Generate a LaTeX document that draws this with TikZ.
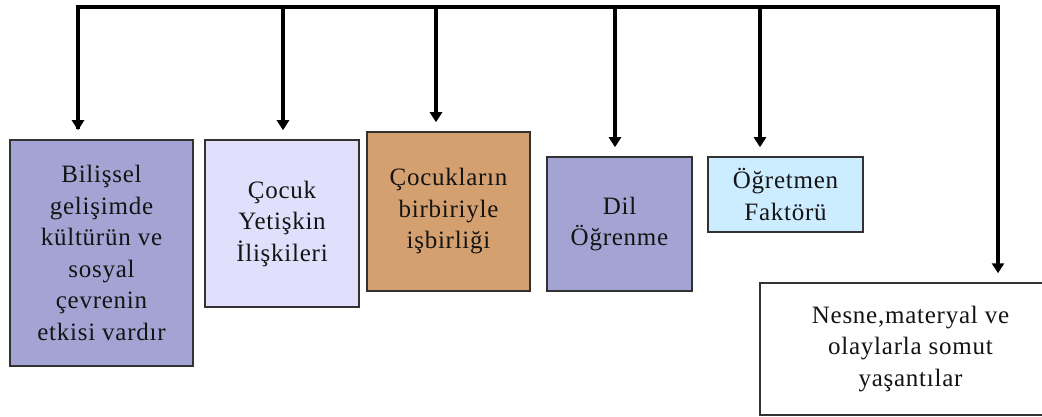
\documentclass[tikz,border=0pt]{standalone}
\usepackage{fontspec}
\setmainfont[LetterSpace=3]{Liberation Serif}
\usetikzlibrary{arrows.meta}

\definecolor{lavender}{RGB}{164,164,212}
\definecolor{palelilac}{RGB}{224,224,252}
\definecolor{tan}{RGB}{212,160,112}
\definecolor{skyblue}{RGB}{204,236,255}
\definecolor{edge}{RGB}{50,50,50}
\definecolor{ink}{RGB}{20,20,20}

\tikzset{
  card/.style={draw=edge, line width=1.5pt, align=center, inner sep=0pt,
    text=ink, font=\fontsize{25}{31.5}\selectfont},
  wire/.style={line width=3.2pt, black},
  feed/.style={wire, -{Triangle[length=10pt,width=12pt]}, shorten >=9pt}
}

\begin{document}
\begin{tikzpicture}[x=1pt,y=-1pt]
  \useasboundingbox[fill=white] (0,0) rectangle (1042,417);

  % concept boxes (positions in pixel units, y downwards)
  \node[card, fill=lavender, minimum width=183pt, minimum height=226pt]
    (b1) at (101.5,253) {Bilişsel\\gelişimde\\kültürün ve\\sosyal\\çevrenin\\etkisi vardır};
  \node[card, fill=palelilac, minimum width=154pt, minimum height=167pt]
    (b2) at (282,223.5) {Çocuk\\Yetişkin\\İlişkileri};
  \node[card, fill=tan, minimum width=163pt, minimum height=159pt]
    (b3) at (448.5,211.5) {Çocukların\\birbiriyle\\işbirliği};
  \node[card, fill=lavender, minimum width=145pt, minimum height=134pt]
    (b4) at (619.5,224) {Dil\\Öğrenme};
  \node[card, fill=skyblue, minimum width=155pt, minimum height=75pt]
    (b5) at (785.5,194.5) {Öğretmen\\Faktörü};
  \node[card, fill=white, minimum width=301pt, minimum height=132pt]
    (b6) at (910.5,349) {Nesne,materyal ve\\olaylarla somut\\yaşantılar};

  % distribution bar along the top
  \coordinate (t1) at (78,7);
  \coordinate (t2) at (283,7);
  \coordinate (t3) at (436,7);
  \coordinate (t4) at (615,7);
  \coordinate (t5) at (760,7);
  \coordinate (t6) at (998,7);

  \draw[wire, line join=miter] (t1 |- b1.north) ++(0,-10) -- (t1) -- (t6) -- ++(0,10);
  \draw[feed] (t1) -- (t1 |- b1.north);
  \draw[feed] (t2) -- (t2 |- b2.north);
  \draw[feed] (t3) -- (t3 |- b3.north);
  \draw[feed] (t4) -- (t4 |- b4.north);
  \draw[feed] (t5) -- (t5 |- b5.north);
  \draw[feed] (t6) -- (t6 |- b6.north);
\end{tikzpicture}
\end{document}
